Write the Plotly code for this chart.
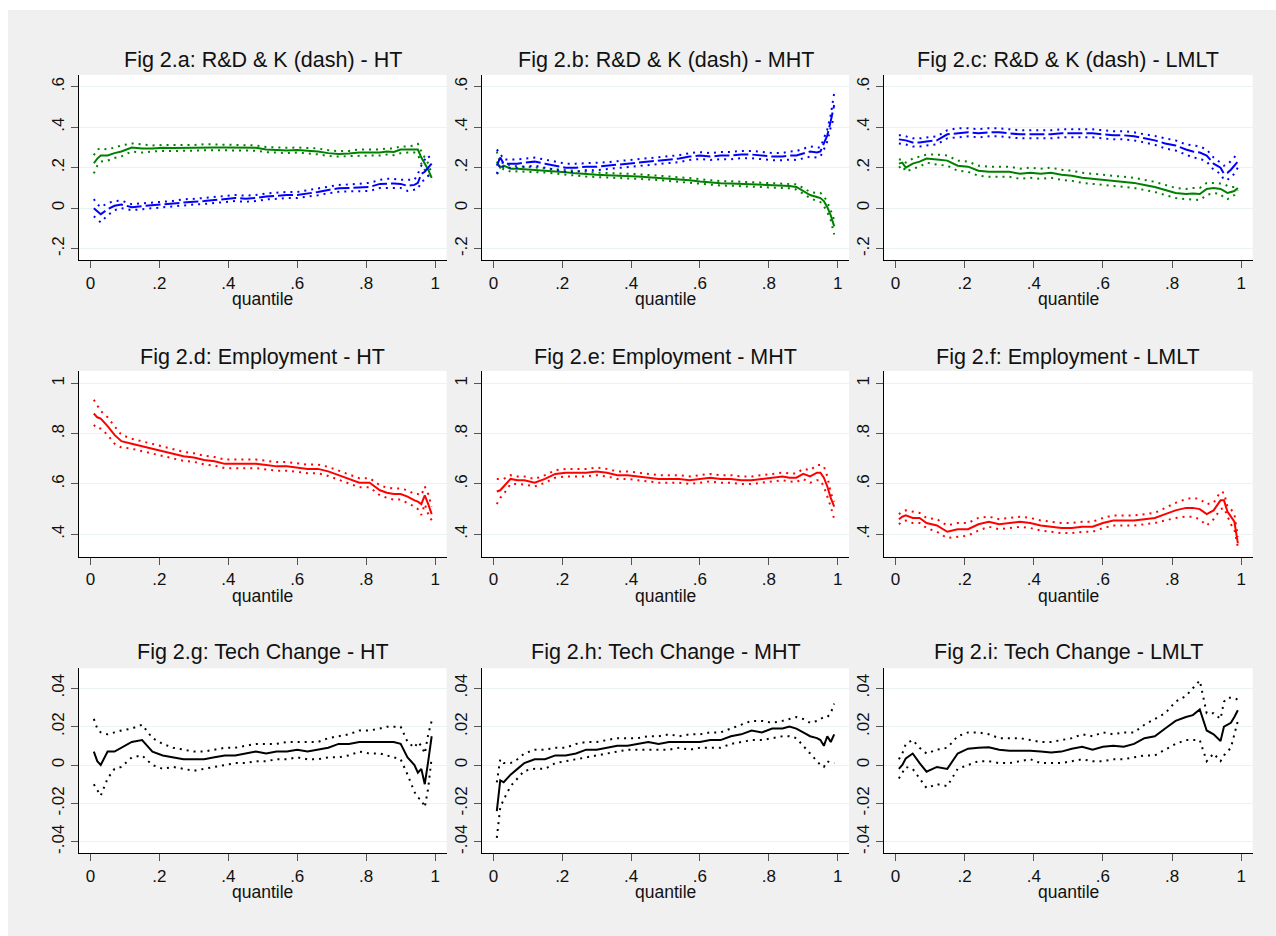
import plotly.graph_objects as go

# ---------------- data ----------------
Q = [0.01, 0.02, 0.03, 0.05, 0.07, 0.09, 0.12, 0.15, 0.18, 0.21, 0.24, 0.27, 0.30, 0.33,
     0.36, 0.39, 0.42, 0.45, 0.48, 0.51, 0.54, 0.57, 0.60, 0.63, 0.66, 0.69, 0.72, 0.75,
     0.78, 0.81, 0.84, 0.86, 0.88, 0.90, 0.92, 0.94, 0.95, 0.96, 0.97, 0.98, 0.99]

# Fig 2.a  HT
a_rd = [.222, .245, .26, .26, .272, .28, .30, .295, .295, .298, .297, .298, .298, .302, .30, .30, .30, .30, .298, .29, .288,
        .285, .288, .285, .28, .272, .268, .27, .275, .275, .275, .28, .278, .29, .29, .292, .29, .25, .22, .19, .15]
a_rd_hi = [.262, .29, .295, .29, .30, .31, .32, .315, .31, .312, .312, .312, .312, .316, .315, .313, .313, .313, .31, .302, .30,
           .298, .30, .298, .295, .286, .282, .283, .29, .29, .29, .295, .295, .305, .305, .31, .318, .28, .25, .22, .17]
a_rd_lo = [.172, .21, .23, .235, .248, .256, .28, .275, .28, .283, .282, .283, .284, .288, .287, .286, .286, .286, .284, .277, .275,
           .272, .275, .272, .266, .258, .255, .257, .26, .26, .26, .265, .262, .272, .275, .275, .265, .22, .19, .16, .135]
a_k = [.00, -.015, -.03, -.005, .012, .018, .005, .01, .015, .018, .022, .03, .032, .035, .04, .045, .05, .047, .05, .058, .063,
       .065, .065, .072, .08, .09, .098, .10, .102, .105, .12, .122, .122, .12, .11, .115, .125, .17, .18, .20, .22]
a_k_hi = [.045, .02, .005, .025, .035, .037, .02, .025, .03, .032, .036, .044, .046, .05, .055, .06, .065, .062, .065, .073, .078,
          .08, .08, .088, .096, .106, .115, .117, .12, .125, .14, .145, .145, .14, .14, .14, .17, .21, .24, .26, .23]
a_k_lo = [-.04, -.055, -.07, -.035, -.01, 0.0, -.01, -.005, .0, .004, .008, .016, .018, .021, .025, .03, .035, .032, .035, .043, .048,
          .05, .05, .056, .064, .074, .081, .083, .084, .085, .1, .1, .1, .1, .085, .09, .095, .13, .14, .16, .18]

# Fig 2.b  MHT
b_k = [.21, .25, .22, .22, .22, .225, .23, .22, .21, .20, .20, .205, .205, .21, .215, .22, .225, .23, .235, .24, .245,
       .255, .26, .255, .26, .26, .265, .265, .26, .255, .255, .26, .26, .27, .28, .275, .28, .32, .36, .43, .51]
b_k_hi = [.29, .27, .24, .24, .24, .245, .25, .24, .23, .22, .22, .222, .222, .227, .232, .237, .242, .247, .252, .257, .262,
          .272, .277, .272, .278, .278, .283, .283, .278, .273, .273, .28, .282, .295, .305, .30, .30, .345, .39, .46, .57]
b_k_lo = [.17, .22, .20, .20, .20, .205, .21, .20, .19, .18, .18, .188, .188, .193, .198, .203, .208, .213, .218, .223, .228,
          .238, .243, .238, .242, .242, .247, .247, .242, .237, .237, .24, .238, .245, .255, .25, .255, .29, .33, .40, .45]
b_rd = [.23, .20, .21, .195, .195, .193, .19, .187, .182, .178, .172, .167, .165, .163, .162, .16, .157, .153, .15, .145, .142,
        .138, .132, .127, .123, .122, .12, .117, .116, .115, .112, .11, .105, .085, .065, .055, .05, .035, .005, -.035, -.09]
b_rd_hi = [.28, .22, .225, .21, .208, .205, .202, .198, .193, .19, .184, .178, .176, .174, .173, .171, .168, .164, .161, .156, .153,
           .149, .143, .138, .134, .133, .131, .128, .127, .126, .123, .122, .118, .10, .08, .075, .075, .06, .03, -.01, -.06]
b_rd_lo = [.17, .18, .195, .18, .182, .181, .178, .176, .171, .166, .16, .156, .154, .152, .151, .149, .146, .142, .139, .134, .131,
           .127, .121, .116, .112, .111, .109, .106, .105, .104, .101, .098, .092, .07, .05, .035, .03, .01, -.02, -.06, -.13]

# Fig 2.c  LMLT
c_k = [.34, .338, .335, .325, .325, .33, .335, .365, .37, .375, .37, .375, .375, .37, .365, .365, .365, .365, .37, .37, .37,
       .37, .365, .36, .36, .355, .345, .335, .32, .31, .29, .28, .275, .26, .22, .2, .17, .175, .19, .21, .23]
c_k_hi = [.36, .36, .355, .345, .345, .35, .355, .385, .395, .395, .39, .395, .395, .39, .385, .385, .385, .385, .39, .39, .39,
          .39, .385, .38, .38, .375, .365, .357, .345, .335, .315, .31, .305, .29, .25, .225, .21, .215, .235, .255, .27]
c_k_lo = [.32, .318, .315, .305, .305, .31, .315, .345, .35, .355, .35, .355, .355, .35, .345, .345, .345, .345, .35, .35, .35,
          .35, .345, .34, .34, .335, .325, .313, .295, .285, .265, .25, .245, .23, .19, .17, .14, .14, .155, .17, .20]
c_rd = [.22, .225, .20, .22, .23, .245, .24, .235, .21, .205, .185, .18, .18, .18, .17, .175, .17, .175, .165, .16, .15,
        .145, .14, .135, .13, .125, .115, .105, .09, .075, .07, .072, .07, .095, .10, .095, .085, .075, .08, .085, .10]
c_rd_hi = [.24, .24, .225, .245, .255, .265, .265, .26, .235, .23, .21, .205, .205, .205, .195, .2, .195, .2, .19, .185, .175,
           .17, .165, .16, .155, .15, .14, .13, .115, .1, .095, .1, .1, .125, .125, .12, .12, .11, .105, .105, .105]
c_rd_lo = [.20, .21, .18, .195, .205, .225, .215, .21, .185, .18, .16, .155, .155, .155, .145, .15, .145, .15, .14, .135, .125,
           .12, .115, .11, .105, .1, .09, .08, .065, .05, .045, .043, .04, .065, .075, .07, .05, .045, .055, .065, .09]

# Fig 2.d-f  Employment
d_emp = [.88, .865, .86, .83, .795, .77, .76, .75, .74, .73, .72, .71, .705, .695, .69, .68, .68, .68, .68, .675, .67,
         .67, .665, .66, .66, .65, .635, .62, .605, .605, .575, .565, .56, .56, .55, .535, .53, .52, .555, .52, .48]
d_emp_hi = [.935, .91, .89, .865, .83, .795, .78, .77, .758, .748, .738, .728, .722, .712, .707, .697, .697, .697, .697, .692, .687,
            .687, .682, .677, .677, .668, .653, .638, .623, .623, .595, .585, .582, .582, .575, .56, .56, .555, .59, .56, .51]
d_emp_lo = [.835, .82, .82, .795, .76, .745, .74, .73, .722, .712, .702, .692, .688, .678, .673, .663, .663, .663, .663, .658, .653,
            .653, .648, .643, .643, .632, .617, .602, .587, .587, .555, .545, .538, .538, .525, .51, .50, .477, .52, .48, .455]
e_emp = [.57, .575, .59, .62, .615, .615, .605, .62, .64, .645, .645, .645, .65, .645, .635, .635, .63, .625, .62, .62, .62,
         .615, .62, .625, .62, .62, .615, .615, .62, .625, .63, .625, .625, .64, .63, .645, .645, .625, .59, .545, .51]
e_emp_hi = [.62, .62, .62, .635, .63, .63, .62, .635, .655, .66, .66, .66, .665, .66, .65, .65, .645, .64, .635, .635, .635,
            .63, .635, .64, .635, .635, .63, .63, .635, .64, .645, .642, .642, .66, .655, .675, .675, .67, .63, .565, .53]
e_emp_lo = [.52, .545, .56, .60, .60, .598, .59, .605, .625, .63, .63, .63, .635, .63, .62, .62, .615, .61, .605, .605, .605,
            .6, .605, .61, .605, .605, .6, .6, .605, .61, .615, .61, .608, .62, .605, .615, .615, .59, .55, .51, .46]
f_emp = [.46, .47, .475, .465, .465, .445, .435, .41, .42, .42, .44, .45, .44, .445, .45, .445, .435, .43, .425, .425, .43,
         .43, .445, .455, .455, .455, .46, .465, .48, .495, .505, .505, .50, .48, .495, .535, .535, .49, .47, .45, .365]
f_emp_hi = [.48, .49, .495, .49, .485, .465, .46, .435, .445, .445, .465, .47, .46, .465, .47, .465, .455, .45, .445, .445, .45,
            .45, .465, .475, .475, .475, .48, .485, .505, .525, .54, .545, .54, .52, .525, .57, .565, .51, .50, .48, .39]
f_emp_lo = [.44, .45, .455, .445, .445, .425, .41, .385, .39, .395, .415, .43, .42, .425, .43, .425, .415, .41, .405, .405, .41,
            .41, .425, .435, .435, .435, .44, .445, .455, .465, .47, .47, .46, .435, .46, .50, .505, .47, .44, .42, .35]

# Fig 2.g-i  Tech change
g_tc = [.007, .002, .0, .007, .007, .009, .012, .013, .007, .005, .004, .003, .003, .003, .004, .005, .005, .006, .007, .006, .007,
        .007, .008, .007, .008, .009, .011, .011, .012, .012, .012, .012, .012, .011, .004, .0, -.004, -.002, -.01, .002, .015]
g_tc_hi = [.024, .019, .017, .016, .017, .018, .019, .021, .014, .011, .009, .008, .007, .007, .008, .009, .009, .01, .011, .011, .011,
           .012, .012, .012, .012, .014, .015, .016, .018, .018, .019, .02, .02, .02, .012, .009, .012, .01, .006, .016, .023]
g_tc_lo = [-.01, -.013, -.016, -.007, -.002, -.001, .004, .005, .0, -.002, -.001, -.002, -.003, -.002, -.001, .0, .001, .001, .002, .002, .003,
           .003, .004, .003, .003, .004, .004, .005, .007, .006, .006, .005, .004, .003, -.005, -.014, -.017, -.018, -.022, -.012, .004]
h_tc = [-.024, -.008, -.009, -.005, -.002, .001, .003, .003, .005, .005, .006, .008, .008, .009, .010, .010, .011, .012, .011, .012, .012,
        .012, .012, .013, .013, .015, .016, .018, .017, .019, .019, .02, .019, .017, .015, .014, .013, .010, .015, .012, .016]
h_tc_hi = [-.009, .003, .001, .001, .003, .006, .008, .008, .009, .009, .011, .012, .012, .013, .014, .014, .014, .015, .015, .016, .015,
           .016, .016, .017, .017, .019, .021, .023, .023, .022, .023, .024, .025, .024, .022, .023, .024, .025, .025, .027, .032]
h_tc_lo = [-.038, -.022, -.018, -.011, -.007, -.003, -.002, -.002, .001, .002, .003, .004, .005, .006, .007, .008, .008, .008, .008, .008, .009,
           .008, .009, .009, .009, .011, .012, .013, .013, .014, .015, .015, .014, .01, .006, .002, .0, -.001, .002, .001, .001]
i_tc = [-.002, .0, .0035, .006, .001, -.0035, -.001, -.002, .006, .0085, .009, .0093, .008, .0075, .0075, .0075, .007, .0065, .007, .0085, .0095,
        .008, .0095, .010, .0095, .011, .014, .015, .019, .023, .025, .026, .029, .018, .016, .0125, .020, .021, .022, .025, .0285]
i_tc_hi = [.003, .006, .011, .013, .009, .006, .008, .009, .015, .017, .017, .016, .014, .014, .014, .013, .012, .012, .013, .014, .016,
           .015, .017, .016, .017, .017, .021, .024, .027, .033, .036, .040, .044, .027, .027, .024, .033, .035, .035, .035, .034]
i_tc_lo = [-.007, -.004, -.001, -.002, -.007, -.012, -.010, -.011, -.002, .0, .002, .002, .001, .001, .002, .003, .001, .001, .001, .002, .003,
           .002, .002, .003, .003, .004, .005, .005, .008, .011, .013, .013, .013, .002, .006, .002, .005, .007, .009, .016, .023]

TITLES = ["Fig 2.a: R&D & K (dash) - HT", "Fig 2.b: R&D & K (dash) - MHT", "Fig 2.c: R&D & K (dash) - LMLT",
          "Fig 2.d: Employment - HT", "Fig 2.e: Employment - MHT", "Fig 2.f: Employment - LMLT",
          "Fig 2.g: Tech Change - HT", "Fig 2.h: Tech Change - MHT", "Fig 2.i: Tech Change - LMLT"]
X_TICKS = [0, 0.2, 0.4, 0.6, 0.8, 1]
X_TICKTEXT = ["0", ".2", ".4", ".6", ".8", "1"]
ROW_YTICKS = [([-0.2, 0, 0.2, 0.4, 0.6], ["-.2", "0", ".2", ".4", ".6"]),
              ([0.4, 0.6, 0.8, 1.0], [".4", ".6", ".8", "1"]),
              ([-0.04, -0.02, 0, 0.02, 0.04], ["-.04", "-.02", "0", ".02", ".04"])]
ROW_YRANGE = [[-0.256, 0.658], [0.311, 1.049], [-0.046, 0.0504]]

GREEN, BLUE, RED, BLACK = "#008000", "#0000FF", "#FF0000", "#000000"
DOT = "2px,5px"
DASH = "15px,4px"

PANELS = [
    [(a_rd, a_rd_hi, a_rd_lo, GREEN, "solid"), (a_k, a_k_hi, a_k_lo, BLUE, DASH)],
    [(b_rd, b_rd_hi, b_rd_lo, GREEN, "solid"), (b_k, b_k_hi, b_k_lo, BLUE, DASH)],
    [(c_rd, c_rd_hi, c_rd_lo, GREEN, "solid"), (c_k, c_k_hi, c_k_lo, BLUE, DASH)],
    [(d_emp, d_emp_hi, d_emp_lo, RED, "solid")],
    [(e_emp, e_emp_hi, e_emp_lo, RED, "solid")],
    [(f_emp, f_emp_hi, f_emp_lo, RED, "solid")],
    [(g_tc, g_tc_hi, g_tc_lo, BLACK, "solid")],
    [(h_tc, h_tc_hi, h_tc_lo, BLACK, "solid")],
    [(i_tc, i_tc_hi, i_tc_lo, BLACK, "solid")],
]

# ---------------- layout geometry (pixels) ----------------
W, H = 1276, 936
COL_L = [79, 482, 884]
COL_R = [446.5, 849, 1252.7]
ROW_T = [75, 371, 668.3]
ROW_B = [260, 556.7, 853.3]
TITLE_Y = [60, 356.7, 652.3]
XLAB_Y = [299, 596, 891.7]

FONT = "Liberation Sans, Arial, Helvetica, sans-serif"


def px(x):
    return x / W


def py(y):
    return 1 - y / H


fig = go.Figure()
layout = dict(
    width=W, height=H,
    margin=dict(l=0, r=0, t=0, b=0),
    paper_bgcolor="#F0F0F0",
    plot_bgcolor="#FFFFFF",
    showlegend=False,
    font=dict(family=FONT, color="#111111"),
    annotations=[],
    shapes=[
        dict(type="rect", xref="paper", yref="paper", x0=0, x1=1, y0=py(10), y1=1,
             fillcolor="#FFFFFF", line=dict(width=0), layer="below"),
        dict(type="rect", xref="paper", yref="paper", x0=0, x1=px(8), y0=0, y1=1,
             fillcolor="#FFFFFF", line=dict(width=0), layer="below"),
    ],
)

for i, series in enumerate(PANELS):
    r, c = divmod(i, 3)
    sfx = "" if i == 0 else str(i + 1)
    for (m, hi, lo, color, dash) in series:
        for ys, d in ((hi, DOT), (lo, DOT), (m, dash)):
            fig.add_trace(go.Scatter(
                x=Q, y=ys, mode="lines",
                line=dict(color=color, width=2, dash=d),
                xaxis="x" + sfx, yaxis="y" + sfx,
                hoverinfo="skip", showlegend=False))
    yt, ytt = ROW_YTICKS[r]
    layout["xaxis" + sfx] = dict(
        domain=[px(COL_L[c]), px(COL_R[c])], anchor="y" + sfx,
        range=[-0.033, 1.033], tickvals=X_TICKS, ticktext=X_TICKTEXT,
        showgrid=False, zeroline=False, showline=True, linecolor="#000000", linewidth=1.3,
        ticks="outside", ticklen=7, tickcolor="#555555", tickwidth=1,
        tickfont=dict(size=17, family=FONT, color="#111111"), ticklabelstandoff=0)
    layout["yaxis" + sfx] = dict(
        domain=[py(ROW_B[r]), py(ROW_T[r])], anchor="x" + sfx,
        range=ROW_YRANGE[r], tickvals=yt, ticktext=ytt, tickangle=-90,
        showgrid=True, gridcolor="#EAF2F3", gridwidth=1.2, zeroline=False,
        showline=True, linecolor="#000000", linewidth=1.3,
        ticks="outside", ticklen=7, tickcolor="#555555", tickwidth=1,
        tickfont=dict(size=17, family=FONT, color="#111111"))
    xc = px((COL_L[c] + COL_R[c]) / 2)
    layout["annotations"].append(dict(
        text=TITLES[i], x=xc, y=py(TITLE_Y[r]), xref="paper", yref="paper",
        xanchor="center", yanchor="middle", showarrow=False,
        font=dict(size=21.5, family=FONT, color="#111111")))
    layout["annotations"].append(dict(
        text="quantile", x=xc, y=py(XLAB_Y[r]), xref="paper", yref="paper",
        xanchor="center", yanchor="middle", showarrow=False,
        font=dict(size=17.5, family=FONT, color="#111111")))

fig.update_layout(**layout)
fig.write_html("out.html", config={"displayModeBar": False},
               post_script="document.body.style.margin='0px';")
